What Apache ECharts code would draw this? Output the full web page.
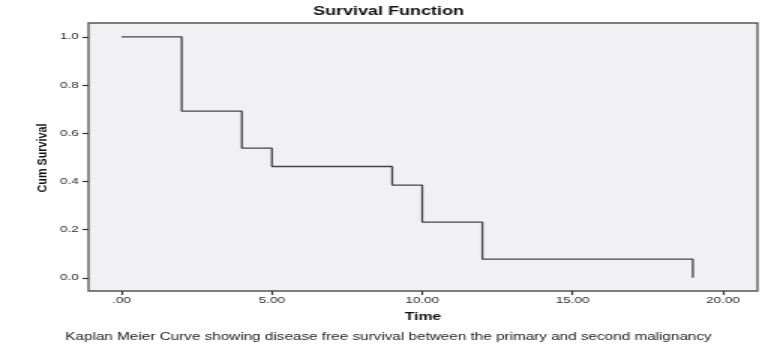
<!DOCTYPE html>
<html>
<head>
<meta charset="utf-8">
<script src="https://cdn.jsdelivr.net/npm/echarts@6/dist/echarts.min.js"></script>
<style>
  html, body { margin: 0; padding: 0; background: #fff; overflow: hidden; }
  /* the source picture is stretched sideways, so draw narrow and widen it */
  #chart { width: 522px; height: 353px; transform: scaleX(1.5); transform-origin: 0 0; }
</style>
</head>
<body>
<div id="chart"></div>
<script>
// Kaplan Meier estimate
const times = [0, 2, 4, 5, 9, 10, 12, 19]
const survival = [1.0, 0.692, 0.538, 0.462, 0.385, 0.231, 0.077, 0.0]
const xTicks = [0, 5, 10, 15, 20]
const yTicks = [0, 0.2, 0.4, 0.6, 0.8, 1.0]

const font = 'Liberation Sans, Arial, sans-serif'
const chart = echarts.init(document.getElementById('chart'))

chart.setOption({
  animation: false,
  title: {
    text: 'Survival Function',
    left: 259,
    textAlign: 'center',
    top: 6,
    padding: 0,
    textStyle: { fontFamily: font, fontSize: 12, fontWeight: 'bold', color: '#111' }
  },
  grid: {
    left: 59, top: 23, width: 446, height: 268,
    show: true,
    backgroundColor: '#f1f1f3',
    borderColor: '#555',
    borderWidth: 1.3
  },
  xAxis: {
    type: 'value',
    min: -1.1,
    max: 21.15,
    name: 'Time',
    nameLocation: 'middle',
    nameGap: 21,
    nameTextStyle: { fontFamily: font, fontSize: 10.5, fontWeight: 'bold', color: '#111' },
    axisLine: { show: false, onZero: false },
    splitLine: { show: false },
    axisTick: { show: true, length: 4, customValues: xTicks, lineStyle: { color: '#333', width: 1.2 } },
    axisLabel: {
      customValues: xTicks,
      margin: 5,
      fontFamily: font,
      fontSize: 9,
      color: '#2a2a2a',
      formatter: v => v === 0 ? '.00' : v.toFixed(2)
    }
  },
  yAxis: {
    type: 'value',
    min: -0.055,
    max: 1.058,
    axisLine: { show: false, onZero: false },
    splitLine: { show: false },
    axisTick: { show: true, length: 4, customValues: yTicks, lineStyle: { color: '#333', width: 1.2 } },
    axisLabel: {
      customValues: yTicks,
      margin: 6.5,
      fontFamily: font,
      fontSize: 9,
      color: '#2a2a2a',
      formatter: v => v.toFixed(1)
    }
  },
  graphic: [
    {
      type: 'text',
      x: 28.5, y: 158,
      rotation: Math.PI / 2,
      scaleX: 1.2,
      style: {
        text: 'Cum Survival',
        font: 'bold 9px ' + font,
        fill: '#111',
        textAlign: 'center',
        textVerticalAlign: 'middle'
      }
    },
    {
      type: 'text',
      x: 259, y: 337,
      style: {
        text: 'Kaplan Meier Curve showing disease free survival between the primary and second malignancy',
        font: '10.2px ' + font,
        fill: '#222',
        textAlign: 'center',
        textVerticalAlign: 'middle'
      }
    }
  ],
  series: [{
    type: 'line',
    step: 'end',
    symbol: 'none',
    lineStyle: { color: '#444', width: 1.3 },
    data: times.map((t, i) => [t, survival[i]])
  }]
})
</script>
</body>
</html>
